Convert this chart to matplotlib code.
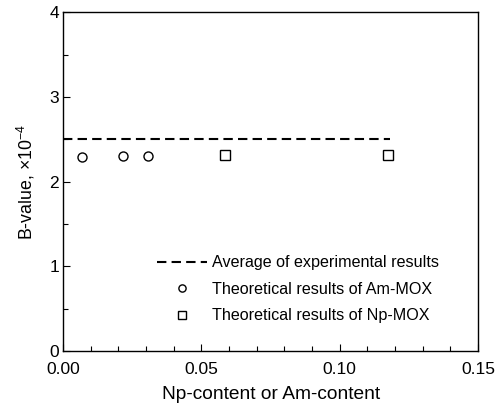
import matplotlib
matplotlib.use('Agg')
import matplotlib.pyplot as plt
from matplotlib.ticker import MultipleLocator

plt.rcParams['font.family'] = 'Liberation Sans'
plt.rcParams['mathtext.fontset'] = 'custom'
plt.rcParams['mathtext.rm'] = 'Liberation Sans'

# average of experimental results (dashed line)
avg_x = [0.0, 0.118]
avg_y = [2.5, 2.5]

# theoretical results, Am-MOX
am_x = [0.0067, 0.0217, 0.0308]
am_y = [2.29, 2.30, 2.30]

# theoretical results, Np-MOX
np_x = [0.0584, 0.1176]
np_y = [2.31, 2.32]

fig = plt.figure(figsize=(4.97, 4.05), dpi=100)
ax = fig.add_axes([0.127, 0.133, 0.835, 0.837])

ax.plot(avg_x, avg_y, color='black', lw=1.5, dashes=(4.5, 2.5),
        label='Average of experimental results')
ax.plot(am_x, am_y, 'o', ms=6.5, mfc='white', mec='black', mew=1.0,
        label='Theoretical results of Am-MOX')
ax.plot(np_x, np_y, 's', ms=6.5, mfc='white', mec='black', mew=1.0,
        label='Theoretical results of Np-MOX')

ax.set_xlim(0, 0.15)
ax.set_ylim(0, 4)
ax.set_xticks([0, 0.05, 0.10, 0.15])
ax.set_xticklabels(['0.00', '0.05', '0.10', '0.15'])
ax.set_yticks([0, 1, 2, 3, 4])
ax.xaxis.set_minor_locator(MultipleLocator(0.01))
ax.yaxis.set_minor_locator(MultipleLocator(0.5))
ax.tick_params(which='major', direction='in', length=5, width=0.8, labelsize=12.5)
ax.tick_params(axis='x', which='major', pad=8)
ax.tick_params(axis='y', which='major', pad=3)
ax.tick_params(which='minor', direction='in', length=3.5, width=0.8)
for s in ax.spines.values():
    s.set_linewidth(1.0)

ax.set_xlabel('Np-content or Am-content', fontsize=13.8, labelpad=6)
ax.set_ylabel(r'B-value, $\times\mathregular{10^{-4}}$', fontsize=12.8, labelpad=9)

ax.legend(loc='upper left', bbox_to_anchor=(0.316, 0.37),
          bbox_transform=fig.transFigure, frameon=False, fontsize=11.6,
          handlelength=3.1, handletextpad=0.3, labelspacing=0.72,
          borderpad=0, borderaxespad=0, markerscale=0.8)

fig.savefig('out.png', dpi=100)
